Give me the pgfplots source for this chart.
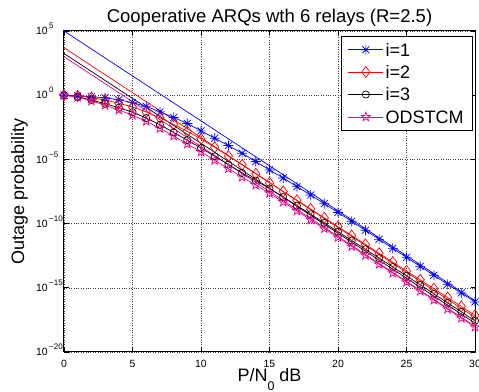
\documentclass[border=0pt]{standalone}
\usepackage{fontspec}
\setmainfont{Liberation Sans}
\usepackage{pgfplots}
\pgfplotsset{compat=1.18}
\usepackage{pgfplotstable}
\usetikzlibrary{calc}

% log10 of outage probability
\pgfplotstableread{
x  b      r      k      m
0  0      0      0      0
1  -0.05  -0.06  -0.12  -0.15
2  -0.12  -0.18  -0.38  -0.45
3  -0.20  -0.38  -0.66  -0.78
4  -0.36  -0.62  -0.98  -1.15
5  -0.58  -0.92  -1.32  -1.55
6  -0.87  -1.31  -1.78  -2.03
7  -1.30  -1.76  -2.30  -2.58
8  -1.73  -2.27  -2.90  -3.17
9  -2.20  -2.82  -3.50  -3.80
10 -2.78  -3.40  -4.12  -4.42
11 -3.35  -4.06  -4.76  -5.07
12 -3.92  -4.74  -5.40  -5.72
13 -4.52  -5.42  -6.05  -6.38
14 -5.17  -6.12  -6.65  -7.00
15 -5.82  -6.82  -7.27  -7.64
16 -6.45  -7.50  -7.93  -8.32
17 -7.12  -8.18  -8.60  -9.01
18 -7.77  -8.86  -9.27  -9.70
19 -8.45  -9.55  -9.95  -10.39
20 -9.13  -10.24 -10.63 -11.08
21 -9.82  -10.93 -11.32 -11.78
22 -10.52 -11.62 -12.00 -12.47
23 -11.23 -12.31 -12.69 -13.17
24 -11.93 -13.00 -13.38 -13.86
25 -12.63 -13.69 -14.07 -14.56
26 -13.33 -14.38 -14.77 -15.26
27 -14.03 -15.07 -15.47 -15.96
28 -14.73 -15.76 -16.17 -16.66
29 -15.40 -16.45 -16.87 -17.36
30 -16.10 -17.15 -17.57 -18.06
}\data

\pgfdeclareplotmark{mstar}{%
  \pgfpathmoveto{\pgfqpoint{-\pgfplotmarksize}{0pt}}\pgfpathlineto{\pgfqpoint{\pgfplotmarksize}{0pt}}%
  \pgfpathmoveto{\pgfqpoint{0pt}{-\pgfplotmarksize}}\pgfpathlineto{\pgfqpoint{0pt}{\pgfplotmarksize}}%
  \pgfpathmoveto{\pgfqpoint{-.7071\pgfplotmarksize}{-.7071\pgfplotmarksize}}\pgfpathlineto{\pgfqpoint{.7071\pgfplotmarksize}{.7071\pgfplotmarksize}}%
  \pgfpathmoveto{\pgfqpoint{-.7071\pgfplotmarksize}{.7071\pgfplotmarksize}}\pgfpathlineto{\pgfqpoint{.7071\pgfplotmarksize}{-.7071\pgfplotmarksize}}%
  \pgfusepathqstroke}
\pgfdeclareplotmark{pentagram}{%
  \pgfpathmoveto{\pgfpointpolar{90}{\pgfplotmarksize}}%
  \pgfpathlineto{\pgfpointpolar{126}{.382\pgfplotmarksize}}%
  \pgfpathlineto{\pgfpointpolar{162}{\pgfplotmarksize}}%
  \pgfpathlineto{\pgfpointpolar{198}{.382\pgfplotmarksize}}%
  \pgfpathlineto{\pgfpointpolar{234}{\pgfplotmarksize}}%
  \pgfpathlineto{\pgfpointpolar{270}{.382\pgfplotmarksize}}%
  \pgfpathlineto{\pgfpointpolar{306}{\pgfplotmarksize}}%
  \pgfpathlineto{\pgfpointpolar{342}{.382\pgfplotmarksize}}%
  \pgfpathlineto{\pgfpointpolar{18}{\pgfplotmarksize}}%
  \pgfpathlineto{\pgfpointpolar{54}{.382\pgfplotmarksize}}%
  \pgfpathclose\pgfusepathqstroke}

\newcommand{\ylab}[1]{10\rlap{\smash{\raisebox{6pt}{\fontsize{8}{9}\selectfont\,#1}}}}

\begin{document}
\begin{tikzpicture}
\begin{axis}[
  scale only axis, width=411pt, height=321pt,
  xmin=0, xmax=30, ymin=-20, ymax=5,
  xtick={0,5,...,30}, xticklabels={0,5,10,15,20,25,30},
  ytick={-20,-15,-10,-5,0,5},
  yticklabels={\ylab{−20},\ylab{−15},\ylab{−10},\ylab{−5},\ylab{0},\ylab{5}},
  tick align=inside, major tick length=4.5pt,
  tick style={black, line width=0.6pt},
  axis line style={black, line width=1pt},
  grid=major, major grid style={dotted, black!75, line width=0.5pt},
  xticklabel style={font=\fontsize{10.5}{12}\selectfont, anchor=north, inner sep=0pt, yshift=-8pt},
  yticklabel style={font=\fontsize{10.5}{12}\selectfont, anchor=east, inner sep=0pt, xshift=-16pt},
  title={Cooperative ARQs wth 6 relays (R=2.5)},
  every axis title/.style={at={(axis description cs:0.5,1)}, anchor=base, yshift=8pt, inner sep=0pt, font=\fontsize{18.5}{20}\selectfont},
  xlabel={P/N\raisebox{-9pt}{\fontsize{12.5}{14}\selectfont 0} dB},
  every axis x label/.style={at={(axis description cs:0.5,0)}, anchor=base, yshift=-29.7pt, inner sep=0pt, font=\fontsize{18}{20}\selectfont},
  ylabel={Outage probability},
  every axis y label/.style={at={(axis description cs:-0.08759,0.5)}, rotate=90, anchor=south, inner sep=0pt, font=\fontsize{18}{20}\selectfont},
  legend style={at={(1,1)}, anchor=north east, xshift=-2pt, yshift=-5pt,
    draw=black, line width=0.6pt, fill=white,
    font=\fontsize{18}{20}\selectfont,
    inner xsep=7pt, inner ysep=4.9pt, row sep=5.4pt,
    nodes={inner sep=2pt, text height=13pt, text depth=0pt},
    /tikz/every even column/.append style={column sep=2pt}},
  legend cell align=left,
  legend image code/.code={\draw[mark repeat=2,mark phase=2,#1] plot coordinates {(0pt,0pt) (17.5pt,0pt) (35pt,0pt)};},
]
% high-SNR asymptotes
\addplot[blue, line width=0.7pt, forget plot] coordinates {(0,5) (30,-16)};
\addplot[red, line width=0.7pt, forget plot] coordinates {(0,3.7) (30,-17.3)};
\addplot[black, line width=0.7pt, forget plot] coordinates {(0,3.25) (30,-17.75)};
\addplot[magenta, line width=0.7pt, forget plot] coordinates {(0,3.0) (30,-18.0)};
% exact curves
\addplot[blue, line width=0.7pt, mark=mstar, mark size=5pt, mark options={solid}] table[x=x, y=b] {\data};
\addplot[red, line width=0.7pt, mark=diamond, mark size=5.5pt, mark options={solid}] table[x=x, y=r] {\data};
\addplot[black, line width=0.7pt, mark=o, mark size=3.6pt, mark options={solid}] table[x=x, y=k] {\data};
\addplot[magenta, line width=0.7pt, mark=pentagram, mark size=4.8pt, mark options={solid}] table[x=x, y=m] {\data};
\legend{i=1, i=2, i=3, ODSTCM}
\end{axis}
\pgfresetboundingbox
\path[use as bounding box] ($(current axis.south west)+(-64pt,-40pt)$) rectangle ($(current axis.north east)+(4pt,31pt)$);
\end{tikzpicture}
\end{document}
